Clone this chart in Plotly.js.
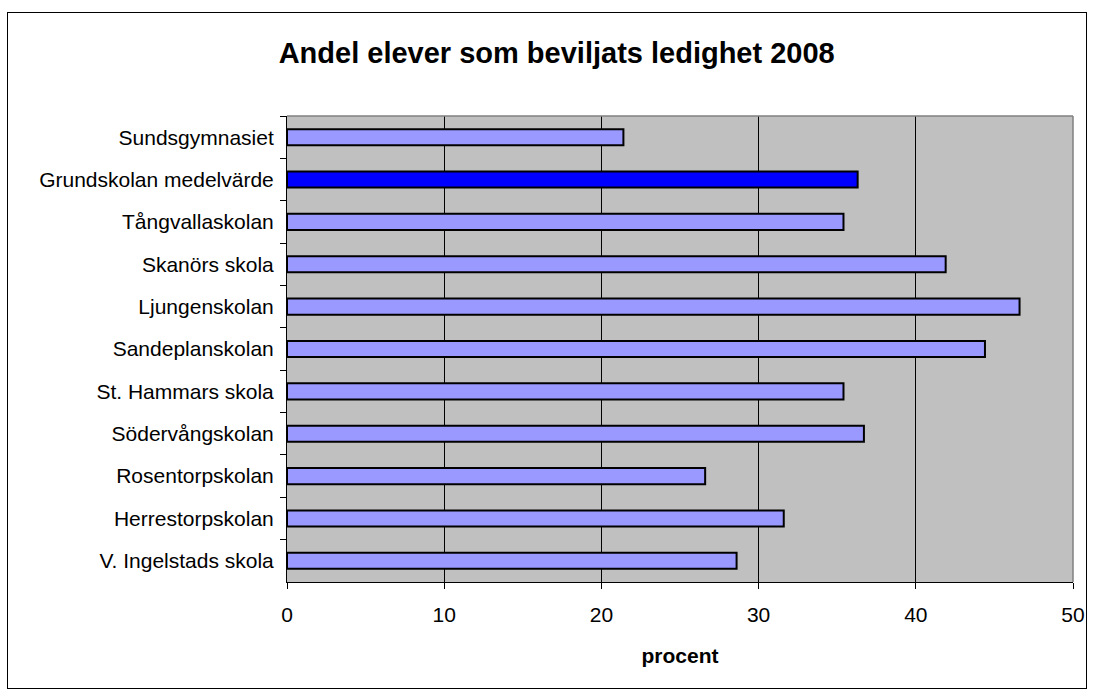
<!DOCTYPE html>
<html>
<head>
<meta charset="utf-8">
<script src="https://cdn.plot.ly/plotly-3.0.1.min.js"></script>
<style>
  html, body { margin: 0; padding: 0; background: #fff; }
  #chart {
    position: absolute; left: 7px; top: 12px;
    width: 1078px; height: 675px;
    border: 1px solid #000;
  }
</style>
</head>
<body>
<div id="chart"></div>
<script>
// skolor uppifrån och ned
const schools = [
  'Sundsgymnasiet',
  'Grundskolan medelvärde',
  'Tångvallaskolan',
  'Skanörs skola',
  'Ljungenskolan',
  'Sandeplanskolan',
  'St. Hammars skola',
  'Södervångskolan',
  'Rosentorpskolan',
  'Herrestorpskolan',
  'V. Ingelstads skola'
];
const andel = [21.4, 36.3, 35.4, 41.9, 46.6, 44.4, 35.4, 36.7, 26.6, 31.6, 28.6];
const xTicks = [0, 10, 20, 30, 40, 50];

const font = 'Arial, "Liberation Sans", sans-serif';
const barColors = schools.map(s => s === 'Grundskolan medelvärde' ? '#0000ff' : '#9999ff');

const trace = {
  type: 'bar',
  orientation: 'h',
  y: schools,
  x: andel,
  marker: { color: barColors, line: { color: '#000', width: 2 } },
  width: 0.38,
  hoverinfo: 'x+y'
};

const layout = {
  width: 1078,
  height: 675,
  margin: { l: 279, r: 13, t: 103, b: 106 },
  paper_bgcolor: '#fff',
  plot_bgcolor: '#c0c0c0',
  showlegend: false,
  font: { family: font, color: '#000', size: 21 },
  title: {
    text: '<b>Andel elever som beviljats ledighet 2008</b>',
    font: { family: font, size: 29, color: '#000' },
    xref: 'container', x: 0.509, xanchor: 'center',
    yref: 'container', y: 0.9407, yanchor: 'middle'
  },
  xaxis: {
    range: [0, 50],
    tickvals: xTicks,
    ticktext: xTicks.map(String),
    ticks: 'outside', ticklen: 6, tickcolor: '#000', tickwidth: 1,
    ticklabelstandoff: 8,
    tickfont: { size: 21 },
    showgrid: true, gridcolor: '#000', gridwidth: 1,
    showline: true, linecolor: '#000', linewidth: 1,
    zeroline: false,
    title: { text: '<b>procent</b>', font: { size: 21 }, standoff: 23 }
  },
  yaxis: {
    type: 'category',
    autorange: 'reversed',
    ticks: 'outside', ticklen: 6, tickcolor: '#000', tickwidth: 1,
    tickson: 'boundaries',
    ticklabelstandoff: 8,
    tickfont: { size: 21 },
    showgrid: false,
    showline: true, linecolor: '#000', linewidth: 1,
    zeroline: false
  },
  shapes: [
    { type: 'line', xref: 'paper', yref: 'paper', x0: 0, x1: 1, y0: 1, y1: 1,
      line: { color: '#808080', width: 1.5 } },
    { type: 'line', xref: 'paper', yref: 'paper', x0: 1, x1: 1, y0: 0, y1: 1,
      line: { color: '#808080', width: 1.5 } }
  ]
};

Plotly.newPlot('chart', [trace], layout, { displayModeBar: false, staticPlot: true });
</script>
</body>
</html>
